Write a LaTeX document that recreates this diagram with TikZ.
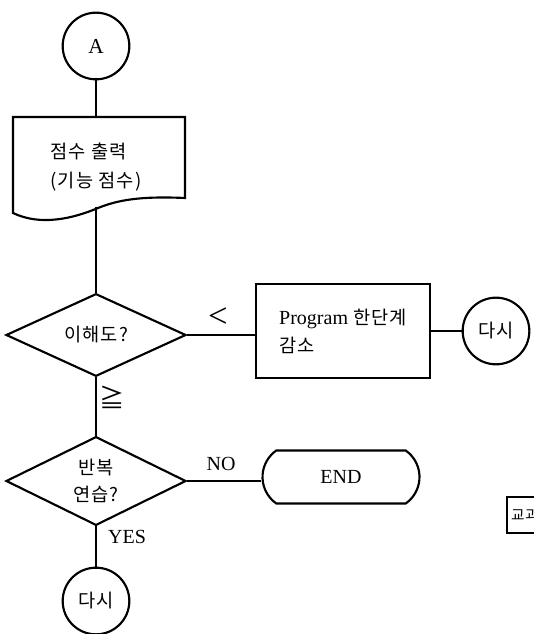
\documentclass[tikz,border=0pt]{standalone}
\usepackage{fontspec}
\setmainfont{Liberation Serif}
\newfontfamily\kr[LetterSpace=6]{Noto Sans CJK KR}
\usetikzlibrary{shapes.geometric,shapes.misc}

\begin{document}
\begin{tikzpicture}[x=0.75pt,y=-0.75pt,
  line width=1.6pt,
  latin/.style={font=\fontsize{15}{20}\selectfont},
  hangul/.style={font=\kr\fontsize{14}{22}\selectfont},
  connector/.style={draw,circle,minimum size=50pt,inner sep=0pt},
  decision/.style={draw,diamond,minimum width=135pt,minimum height=62pt,inner sep=0pt},
  process/.style={draw,rectangle,minimum width=130.5pt,minimum height=70.5pt,inner sep=0pt,align=left},
  terminal/.style={draw,rounded rectangle,rounded rectangle arc length=110,minimum width=117.75pt,minimum height=39.75pt,inner sep=0pt}
]
\useasboundingbox (0,0) rectangle (534,634);

% entry connector
\node[connector,font=\fontsize{16}{20}\selectfont] (A) at (96,46) {A};

% document symbol: score output
\draw (13,117) -- (185,117) -- (185,198)
  .. controls (140,196) and (118,200) .. (98,208)
  .. controls (72,219) and (40,226) .. (13,213) -- cycle;
\coordinate (doctop) at (96,117);
\coordinate (docbot) at (96,207);
\node[hangul,align=left] (doctext) at (96,167) {점수 출력\\(기능 점수)};

% understanding check
\node[decision,hangul] (d1) at (96,335) {이해도?};
\node[process,latin] (box) at (343,331) {Program {\kr\fontsize{14}{22}\selectfont 한단계}\\[1pt]{\kr\fontsize{14}{22}\selectfont 감소}};
\node[connector,hangul] (again1) at (496,331) {다시};

% repeat practice
\node[decision,hangul,align=center] (d2) at (96,481) {반복\\[-2pt]연습?};
\node[terminal,latin] (stop) at (341,477) {END};
\node[connector,hangul] (again2) at (96,601) {다시};

% partly visible tag at the right edge
\draw (507,497) rectangle (560,533);
\node[anchor=west,inner sep=0pt,font=\kr\fontsize{11}{12}\selectfont] (tag) at (510,515) {교과};

% connecting lines
\draw (A) -- (doctop);
\draw (docbot) -- (d1.north);
\draw (d1.east) -- (d1.east -| box.west);
\draw (box) -- (again1);
\draw (d1.south) -- (d2.north);
\draw (d2.east) -- (d2.east -| stop.west);
\draw (d2.south) -- (again2);

% branch labels
\node[font=\fontsize{26}{26}\selectfont] (lt) at (218,318) {<};
\node[font=\kr\fontsize{19}{20}\selectfont] (ge) at (112,397) {≧};
\node[latin] (no) at (221,464) {NO};
\node[latin] (yes) at (127,537) {YES};
\end{tikzpicture}
\end{document}
